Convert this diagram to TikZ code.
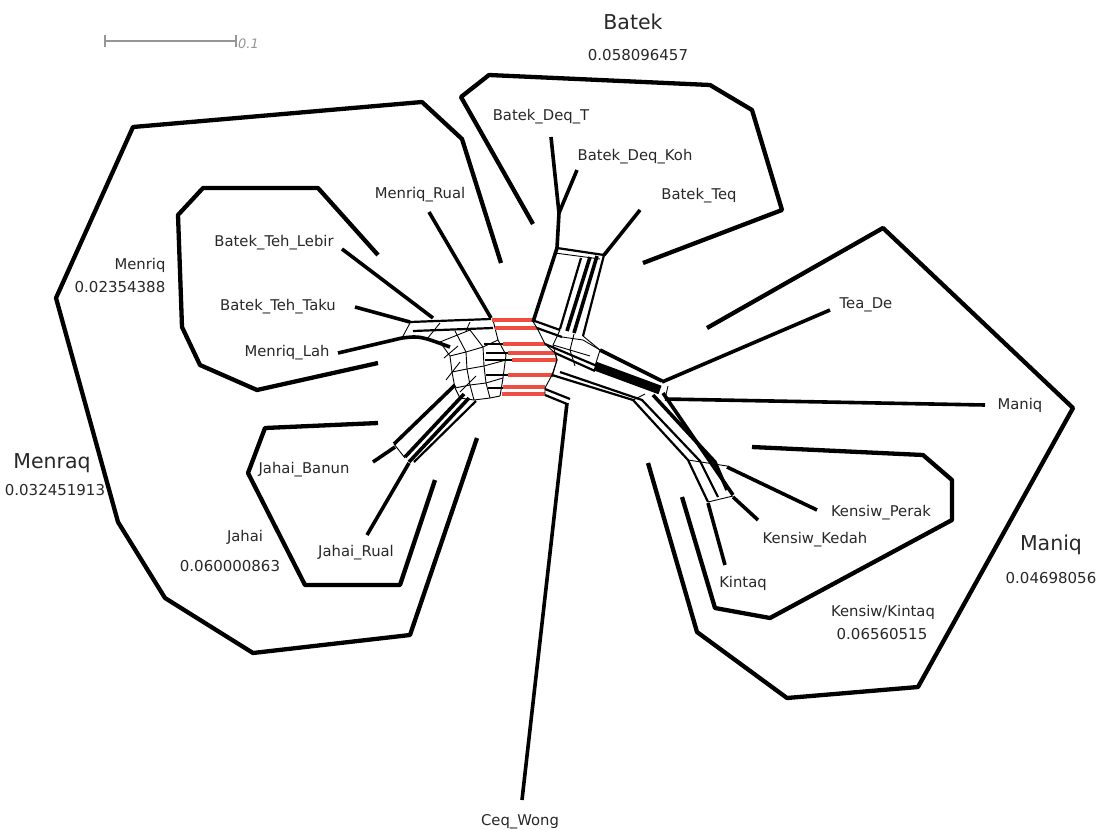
\documentclass[tikz,border=0pt]{standalone}
\usepackage{fontspec}
\setmainfont{DejaVu Sans}
\definecolor{netred}{RGB}{238,78,66}
\definecolor{txt}{RGB}{40,40,40}
\definecolor{scalegray}{RGB}{150,150,150}
\begin{document}
\begin{tikzpicture}[x=1pt,y=-1pt,
  outline/.style={line width=4.3pt, line join=round},
  leaf/.style={line width=3.6pt},
  mid/.style={line width=2.2pt},
  thin/.style={line width=0.9pt},
  redbar/.style={line width=3.8pt, draw=netred},
  lab/.style={font=\fontsize{14.8}{17}\selectfont, text=txt, inner sep=0pt},
  num/.style={font=\fontsize{15}{17}\selectfont, text=txt, inner sep=0pt},
  big/.style={font=\fontsize{20.5}{24}\selectfont, text=txt, inner sep=0pt}]
\useasboundingbox (0,0) rectangle (1101,830);
\fill[white] (0,0) rectangle (1101,830);

% scale bar
\coordinate (sb1) at (105,41); \coordinate (sb2) at (236,41);
\draw[scalegray, line width=1.6pt] (sb1) -- (sb2);
\draw[scalegray, line width=1.6pt] (105,35) -- (105,47) (236,35) -- (236,47);
\node[anchor=west, inner sep=0pt, font=\itshape\fontsize{13}{14}\selectfont, text=scalegray] (sbl) at (238,44) {0.1};

% group outlines
\draw[outline] (533,224) -- (461,97) -- (489,75) -- (710,85) -- (752,110) -- (782,210) -- (643,263);
\draw[outline] (501,263) -- (462,139) -- (422,102) -- (133,127) -- (56,298) -- (118,522) -- (165,598) -- (253,653) -- (410,635) -- (477,438);
\draw[outline] (378,255) -- (318,188) -- (203,188) -- (178,215) -- (182,327) -- (200,365) -- (257,390) -- (378,363);
\draw[outline] (378,423) -- (265,428) -- (248,473) -- (305,585) -- (400,585) -- (435,480);
\draw[outline] (707,328) -- (883,228) -- (1073,408) -- (918,687) -- (787,698) -- (697,632) -- (648,463);
\draw[outline] (752,447) -- (923,455) -- (952,480) -- (952,520) -- (770,618) -- (715,608) -- (682,497);

% ---- Batek branch
\coordinate (dT) at (551,137); \coordinate (dK) at (577,170); \coordinate (bJ) at (559,213);
\coordinate (bTop) at (557,248); \coordinate (tq) at (640,210); \coordinate (bR) at (604,255);
\draw[leaf] (dT) -- (bJ) -- (bTop);
\draw[leaf] (dK) -- (bJ);
\draw[leaf] (tq) -- (bR);
\draw[mid] (bTop) -- (bR);
\draw[thin] (555,253) -- (600,259);
\draw[leaf] (bTop) -- (533,322);
\draw[mid] (581,258) -- (560,329);
\draw[leaf] (590,257) -- (567,331);
\draw[leaf] (597,256) -- (574,333);
\draw[mid] (604,255) -- (583,336);

% ---- left (Menriq) branch
\coordinate (lebir) at (342,249); \coordinate (taku) at (355,307); \coordinate (lah) at (338,353);
\coordinate (mrual) at (429,212);
\draw[leaf] (lebir) -- (433,318);
\draw[leaf] (taku) -- (410,322);
\draw[leaf] (lah) -- (402,338) .. controls (420,336) .. (450,347);
\draw[leaf] (mrual) -- (491,318);
\draw[mid] (410,322) -- (491,319);
\draw[mid] (413,331) -- (493,328);
\draw[thin] (410,323) -- (402,338) (440,323) -- (427,339) (470,322) -- (466,331);

% web mesh
\draw[thin] (440,342) -- (450,356) -- (452,372) -- (455,388) -- (460,398);
\draw[thin] (455,331) -- (466,352) -- (467,369) -- (470,385) -- (474,400);
\draw[thin] (470,330) -- (483,347) -- (484,366) -- (486,383) -- (490,398);
\draw[thin] (493,320) -- (498,340) -- (506,355) -- (503,378) -- (500,396);
\draw[thin] (440,342) -- (455,336) -- (470,330);
\draw[thin] (450,356) -- (466,352) -- (483,347) -- (498,340);
\draw[thin] (452,372) -- (467,369) -- (484,366) -- (506,360);
\draw[thin] (455,388) -- (470,385) -- (486,383) -- (503,378);
\draw[thin] (460,398) -- (474,400) -- (490,398) -- (500,396);
\draw[thin] (444,358) -- (458,346) (446,380) -- (460,362) (460,392) -- (476,376);
\draw[mid] (484,344) -- (503,344) (486,353) -- (508,353) (485,360) -- (512,360);
\draw[mid] (486,375) -- (508,375) (488,388) -- (503,388);

% red bars
\draw[redbar] (492,320) -- (532,320);
\draw[redbar] (495,328) -- (537,328);
\draw[redbar] (503,344) -- (545,344);
\draw[redbar] (508,353) -- (555,353);
\draw[redbar] (512,360) -- (557,360);
\draw[redbar] (508,375) -- (552,375);
\draw[redbar] (503,387) -- (545,387);
\draw[redbar] (502,394) -- (545,394);

% right-of-red structure
\draw[thin] (532,320) -- (537,328) -- (545,344) -- (555,353) -- (557,360) -- (552,375) -- (545,388) -- (545,394);
\draw[mid] (532,320) -- (560,330);
\draw[mid] (537,328) -- (562,337);
\draw[thin] (560,330) -- (553,345) -- (557,360) -- (552,377);
\draw[thin] (574,334) -- (570,350) -- (575,366);
\draw[thin] (583,336) -- (600,350) -- (595,366);
\draw[thin] (562,337) -- (583,340) -- (600,350);
\draw[thin] (553,345) -- (570,350) -- (590,356);
\draw[mid] (545,344) -- (597,366);
\draw[mid] (555,353) -- (595,371);

% ---- Maniq / Kensiw branch
\coordinate (teade) at (830,310); \coordinate (maniq) at (985,405);
\draw[line width=9pt] (595,366) -- (660,390);
\draw[leaf] (600,350) -- (662,381);
\draw[leaf] (662,382) -- (teade);
\draw[leaf] (665,399) -- (maniq);
\draw[thin] (668,386) -- (665,399);
\draw[mid] (552,375) -- (633,400) -- (688,460) -- (708,502);
\draw[mid] (560,372) -- (642,400) -- (700,461) -- (718,497);
\draw[leaf] (653,395) -- (715,462) -- (727,490);
\draw[leaf] (663,393) -- (733,495);
\draw[thin] (688,460) -- (727,466);
\draw[thin] (708,502) -- (733,496);
\draw[thin] (633,400) -- (645,394);
\coordinate (perak) at (817,510); \coordinate (kedah) at (758,520); \coordinate (kintaq) at (725,565);
\draw[leaf] (727,467) -- (perak);
\draw[leaf] (733,497) -- (kedah);
\draw[leaf] (708,503) -- (kintaq);

% ---- Ceq Wong
\coordinate (ceq) at (522,800);
\draw[mid] (545,389) -- (570,399);
\draw[mid] (545,395) -- (567,404);
\draw[leaf] (567,403) -- (ceq);

% ---- Jahai branch
\coordinate (banun) at (373,462); \coordinate (jrual) at (367,535);
\draw[leaf] (455,385) -- (394,444);
\draw[leaf] (395,447) -- (banun);
\draw[thin] (394,444) -- (405,458);
\draw[leaf] (464,394) -- (405,457);
\draw[leaf] (469,398) -- (409,462);
\draw[mid] (476,401) -- (414,462);
\draw[leaf] (409,463) -- (jrual);

% ---- labels
\node[big] (tBatek) at (633,22) {Batek};
\node[num] (nBatek) at (638,55) {0.058096457};
\node[lab] (lDeqT) at (541,117) {Batek\_Deq\_T};
\node[lab] (lDeqK) at (635,157) {Batek\_Deq\_Koh};
\node[lab] (lTeq) at (699,196) {Batek\_Teq};
\node[lab] (lMRual) at (420,195) {Menriq\_Rual};
\node[lab] (lLebir) at (274,243) {Batek\_Teh\_Lebir};
\node[lab] (tMenriq) at (140,265) {Menriq};
\node[num] (nMenriq) at (120,287) {0.02354388};
\node[lab] (lTaku) at (278,307) {Batek\_Teh\_Taku};
\node[lab] (lLah) at (287,353) {Menriq\_Lah};
\node[lab] (lTeaDe) at (866,305) {Tea\_De};
\node[lab] (lManiq) at (1020,405) {Maniq};
\node[big] (tMenraq) at (52,463) {Menraq};
\node[num] (nMenraq) at (55,490) {0.032451913};
\node[lab] (lBanun) at (304,470) {Jahai\_Banun};
\node[lab] (tJahai) at (245,537) {Jahai};
\node[num] (nJahai) at (230,566) {0.060000863};
\node[lab] (lJRual) at (356,553) {Jahai\_Rual};
\node[lab] (lPerak) at (881,513) {Kensiw\_Perak};
\node[lab] (lKedah) at (815,540) {Kensiw\_Kedah};
\node[lab] (lKintaq) at (743,583) {Kintaq};
\node[lab] (tKK) at (883,612) {Kensiw/Kintaq};
\node[num] (nKK) at (882,634) {0.06560515};
\node[big] (tManiq) at (1051,545) {Maniq};
\node[num] (nManiq) at (1051,578) {0.04698056};
\node[lab] (lCeq) at (520,822) {Ceq\_Wong};
\end{tikzpicture}
\end{document}
